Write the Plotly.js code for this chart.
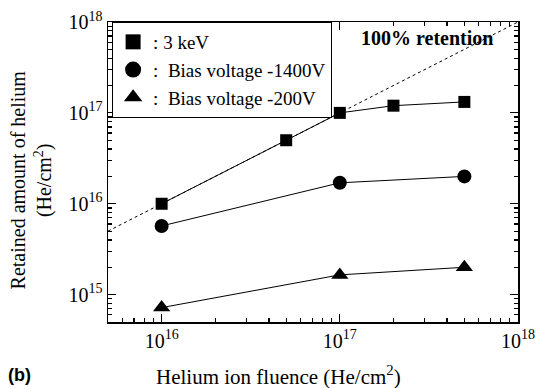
<!DOCTYPE html>
<html>
<head>
<meta charset="utf-8">
<script src="https://cdn.plot.ly/plotly-3.0.1.min.js"></script>
<style>html,body{margin:0;padding:0;background:#fff;}#chart{width:536px;height:388px;}</style>
</head>
<body>
<div id="chart"></div>
<script>
// Helium ion fluence (He/cm^2)
const fluence3keV = [1e16, 5e16, 1e17, 2e17, 5e17];
const retained3keV = [1e16, 5e16, 1e17, 1.2e17, 1.32e17];
const fluenceBias1400 = [1e16, 1e17, 5e17];
const retainedBias1400 = [5.7e15, 1.7e16, 2.0e16];
const fluenceBias200 = [1e16, 1e17, 5e17];
const retainedBias200 = [7.2e14, 1.65e15, 2.0e15];
const fullRetentionX = [5e15, 1e18];
const fullRetentionY = [5e15, 1e18];
const seriesNames = [': 3 keV', ':  Bias voltage -1400V', ':  Bias voltage -200V'];
const xRange = [5e15, 1e18];
const yRange = [5e14, 1e18];

function logTicks(lo, hi) {
  const vals = [], text = [], majors = [];
  for (let e = Math.floor(Math.log10(lo)); e <= Math.ceil(Math.log10(hi)); e++) {
    for (let m = 1; m <= 9; m++) {
      const v = m * Math.pow(10, e);
      if (v < lo * 0.999 || v > hi * 1.001) continue;
      vals.push(v);
      text.push(m === 1 ? '10<sup>' + e + '</sup>' : '');
      if (m === 1) majors.push(v);
    }
  }
  return {vals, text, majors};
}
const xt = logTicks(xRange[0], xRange[1]);
const yt = logTicks(yRange[0], yRange[1]);

const serif = "'Liberation Serif', 'Times New Roman', serif";
const sans = "'Liberation Sans', Arial, sans-serif";
const traces = [
  {x: fullRetentionX, y: fullRetentionY, mode: 'lines', line: {color: '#000', width: 1, dash: 'dot'}, showlegend: false, hoverinfo: 'skip'},
  {x: fluence3keV, y: retained3keV, mode: 'lines+markers', name: seriesNames[0],
   line: {color: '#000', width: 1}, marker: {symbol: 'square', size: 12, color: '#000'}, showlegend: false},
  {x: fluenceBias1400, y: retainedBias1400, mode: 'lines+markers', name: seriesNames[1],
   line: {color: '#000', width: 1}, marker: {symbol: 'circle', size: 14, color: '#000'}, showlegend: false},
  {x: fluenceBias200, y: retainedBias200, mode: 'lines+markers', name: seriesNames[2],
   line: {color: '#000', width: 1}, marker: {symbol: 'triangle-up', size: 15, color: '#000'}, showlegend: false},
  {x: [null], y: [null], mode: 'markers', name: seriesNames[0], marker: {symbol: 'square', size: 15, color: '#000'}},
  {x: [null], y: [null], mode: 'markers', name: seriesNames[1], marker: {symbol: 'circle', size: 16, color: '#000'}},
  {x: [null], y: [null], mode: 'markers', name: seriesNames[2], marker: {symbol: 'triangle-up', size: 16, color: '#000'}},
  {x: xRange, y: yRange, xaxis: 'x2', yaxis: 'y2', mode: 'markers', marker: {opacity: 0, size: 1}, showlegend: false, hoverinfo: 'skip'}
];

const axisCommon = {
  type: 'log', showgrid: false, zeroline: false, showline: true, linecolor: '#000', linewidth: 1.5,
  mirror: 'ticks', ticks: 'inside', ticklen: 4, tickwidth: 1.2, tickcolor: '#000',
  tickmode: 'array',
  tickfont: {family: serif, size: 20, color: '#000'}
};
const majorOverlay = {
  type: 'log', showgrid: false, zeroline: false, showline: false,
  mirror: 'ticks', ticks: 'inside', ticklen: 8, tickwidth: 1.2, tickcolor: '#000',
  showticklabels: false, tickmode: 'array'
};

const layout = {
  width: 536, height: 388,
  margin: {l: 108, r: 18, t: 22, b: 66},
  paper_bgcolor: '#fff', plot_bgcolor: '#fff',
  font: {family: serif, color: '#000'},
  xaxis: Object.assign({}, axisCommon, {
    range: [Math.log10(xRange[0]), Math.log10(xRange[1])],
    tickvals: xt.vals, ticktext: xt.text
  }),
  yaxis: Object.assign({}, axisCommon, {
    range: [Math.log10(yRange[0]), Math.log10(yRange[1])],
    tickvals: yt.vals, ticktext: yt.text
  }),
  xaxis2: Object.assign({}, majorOverlay, {
    overlaying: 'x', anchor: 'y2', side: 'bottom',
    range: [Math.log10(xRange[0]), Math.log10(xRange[1])],
    tickvals: xt.majors
  }),
  yaxis2: Object.assign({}, majorOverlay, {
    overlaying: 'y', anchor: 'x2', side: 'left',
    range: [Math.log10(yRange[0]), Math.log10(yRange[1])],
    tickvals: yt.majors
  }),
  legend: {
    x: 0.01, y: 1.0, xanchor: 'left', yanchor: 'top',
    bgcolor: '#fff', bordercolor: '#000', borderwidth: 1,
    font: {family: serif, size: 19, color: '#000'},
    itemwidth: 30, tracegroupgap: 0
  },
  annotations: [
    {xref: 'paper', yref: 'paper', x: 0.945, y: 0.99, xanchor: 'right', yanchor: 'top',
     text: '<b>100% retention</b>', showarrow: false, font: {family: serif, size: 20, color: '#000'}},
    {xref: 'paper', yref: 'paper', x: -0.25, y: -0.177, xanchor: 'left', yanchor: 'middle',
     text: '<b>(b)</b>', showarrow: false, font: {family: sans, size: 18, color: '#000'}},
    {xref: 'paper', yref: 'paper', x: 0.415, y: -0.177, xanchor: 'center', yanchor: 'middle',
     text: 'Helium ion fluence (He/cm<sup>2</sup>)', showarrow: false, font: {family: serif, size: 21, color: '#000'}},
    {xref: 'paper', yref: 'paper', x: -0.187, y: 0.473, xanchor: 'center', yanchor: 'middle', textangle: -90,
     text: 'Retained amount of helium<br>(He/cm<sup>2</sup>)', showarrow: false, font: {family: serif, size: 20, color: '#000'}}
  ]
};

Plotly.newPlot('chart', traces, layout, {displayModeBar: false, staticPlot: true});
</script>
</body>
</html>
